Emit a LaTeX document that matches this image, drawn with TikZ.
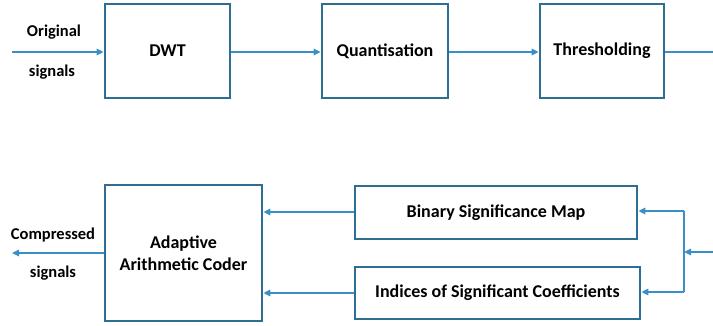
\documentclass[tikz,border=0pt]{standalone}
\usepackage{fontspec}
\setmainfont{Carlito}
\usetikzlibrary{arrows.meta,positioning}
\definecolor{boxblue}{HTML}{2E6E92}
\definecolor{arrblue}{HTML}{3A8FC6}
\tikzset{
  blk/.style={draw=boxblue, line width=2.8pt, font=\bfseries\fontsize{18}{22}\selectfont, align=center, inner sep=0pt},
  lbl/.style={font=\bfseries\fontsize{16.5}{19}\selectfont, inner sep=0pt},
  conn/.style={draw=arrblue, line width=1.5pt, -{Triangle[length=7pt,width=6.5pt]}},
  plain/.style={draw=arrblue, line width=1.5pt}
}
\begin{document}
\begin{tikzpicture}[x=1pt,y=-1pt]
\useasboundingbox (0,0) rectangle (713,326);
% top row
\node[blk, minimum width=125pt, minimum height=94pt] (dwt) at (167.5,51) {DWT};
\node[blk, minimum width=126pt, minimum height=94pt] (quant) at (385,51) {Quantisation};
\node[blk, minimum width=124pt, minimum height=94pt] (thr) at (602,51) {Thresholding};
\coordinate (in) at (12,52);
\coordinate (throut) at (713,52);
\node[lbl] (orig) at (54,32) {Original};
\node[lbl] (sig1) at (52,72) {signals};
\draw[conn] (in) -- (in -| dwt.west);
\draw[conn] (dwt.east |- 0,52) -- (quant.west |- 0,52);
\draw[conn] (quant.east |- 0,52) -- (thr.west |- 0,52);
\draw[plain] (thr.east |- 0,52) -- (throut);
% bottom row
\node[blk, minimum width=157pt, minimum height=136pt] (aac) at (183.5,253) {Adaptive\\Arithmetic Coder};
\node[blk, minimum width=282pt, minimum height=53pt] (bsm) at (496,212.5) {Binary Significance Map};
\node[blk, minimum width=285pt, minimum height=52pt] (isc) at (497.5,293) {Indices of Significant Coefficients};
\coordinate (br) at (684,252);
\coordinate (brin) at (713,252);
\coordinate (brtop) at (684,211);
\coordinate (brbot) at (684,292);
\coordinate (out) at (12,253);
\draw[conn] (brin) -- (br);
\draw[plain] (brtop) -- (brbot);
\draw[conn] (brtop) -- (brtop -| bsm.east);
\draw[conn] (brbot) -- (brbot -| isc.east);
\draw[conn] (bsm.west |- 0,212) -- (aac.east |- 0,212);
\draw[conn] (isc.west |- 0,293) -- (aac.east |- 0,293);
\draw[conn] (aac.west |- out) -- (out);
\node[lbl] (comp) at (53,235) {Compressed};
\node[lbl] (sig2) at (53,273) {signals};
\end{tikzpicture}
\end{document}
